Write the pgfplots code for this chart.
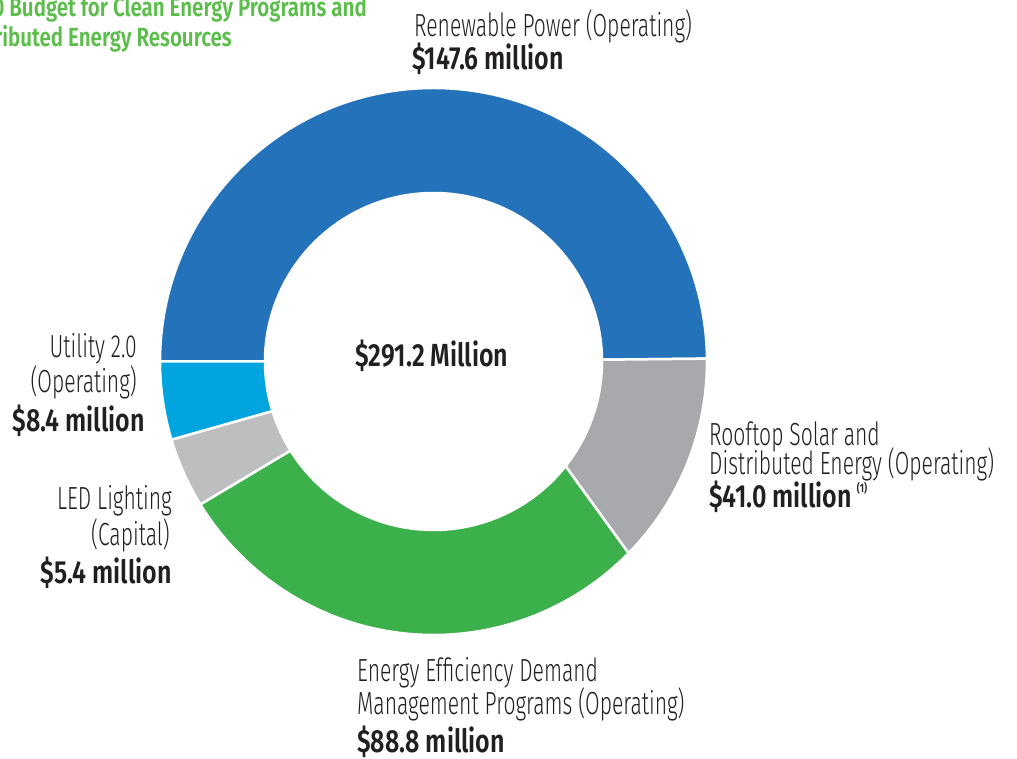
\documentclass[border=0pt]{standalone}
\usepackage{pgfplots}
\pgfplotsset{compat=1.18}
\usepackage{pgfplotstable}
\usepackage{fontspec}
\setmainfont{Fira Sans}[FakeStretch=0.66, UprightFont=* Light, BoldFont=* SemiBold, BoldFeatures={FakeStretch=0.78}]
\definecolor{cRen}{RGB}{35,114,186}
\definecolor{cRoof}{RGB}{167,169,172}
\definecolor{cEE}{RGB}{60,176,74}
\definecolor{cLED}{RGB}{188,190,192}
\definecolor{cUtil}{RGB}{0,165,223}
\definecolor{cTitle}{RGB}{91,190,75}
\definecolor{cText}{RGB}{35,31,32}

% segment values ($ million) and the angles at which the picture draws them
\pgfplotstableread{
seg value outerA outerB innerA innerB col
Renewable 147.6 180.0 0.6 180.0 0.6 cRen
Rooftop 41.0 0.6 -44.5 0.6 -38.4 cRoof
Efficiency 88.8 -44.5 -148.5 -38.4 -148.1 cEE
LED 5.4 -148.5 -163.4 -148.1 -162.9 cLED
Utility 8.4 -163.4 -180.0 -162.9 -180.0 cUtil
}\segs

\newcommand{\lab}{\fontsize{32}{34}\selectfont\color{cText}}
\newcommand{\val}{\fontsize{32}{34}\selectfont\bfseries\color{cText}}

\begin{document}
\begin{tikzpicture}
\useasboundingbox (0,0) rectangle (1017pt,758pt);
\begin{axis}[hide axis, scale only axis, x=1pt, y=1pt,
  xmin=0, xmax=1017, ymin=0, ymax=758, clip=false]
\pgfplotsinvokeforeach{0,...,4}{
  \pgfplotstablegetelem{#1}{outerA}\of\segs\let\oa\pgfplotsretval
  \pgfplotstablegetelem{#1}{outerB}\of\segs\let\ob\pgfplotsretval
  \pgfplotstablegetelem{#1}{innerA}\of\segs\let\ia\pgfplotsretval
  \pgfplotstablegetelem{#1}{innerB}\of\segs\let\ib\pgfplotsretval
  \pgfplotstablegetelem{#1}{col}\of\segs\let\cl\pgfplotsretval
  \edef\segdraw{\noexpand\fill[\cl, draw=white, line width=2.5pt]
    (axis cs:{433.5+273.5*cos(\oa)},{396.5+273.5*sin(\oa)})
    arc[start angle=\oa, end angle=\ob, radius=273.5pt]
    -- (axis cs:{433.5+168.5*cos(\ib)},{396.5+168.5*sin(\ib)})
    arc[start angle=\ib, end angle=\ia, radius=168.5pt] -- cycle;}
  \segdraw
}
% title (cut by the page edge, as in the original)
\node[anchor=base east, inner sep=0pt, text=cTitle, font=\fontsize{26.3}{30}\selectfont\bfseries] at (axis cs:367,741) {FY 2019-20 Budget for Clean Energy Programs and};
\node[anchor=base east, inner sep=0pt, text=cTitle, font=\fontsize{26.3}{30}\selectfont\bfseries] at (axis cs:232,711) {Distributed Energy Resources};
% centre
\node[anchor=base, inner sep=0pt, font=\val] at (axis cs:432,391) {\$291.2 Million};
% Renewable
\node[anchor=base west, inner sep=0pt, font=\lab] at (axis cs:414,721) {Renewable Power (Operating)};
\node[anchor=base west, inner sep=0pt, font=\val] at (axis cs:412,688) {\$147.6 million};
% Rooftop
\node[anchor=base west, inner sep=0pt, font=\lab] at (axis cs:709,312) {Rooftop Solar and};
\node[anchor=base west, inner sep=0pt, font=\lab] at (axis cs:709,283) {Distributed Energy (Operating)};
\node[anchor=base west, inner sep=0pt, font=\val] at (axis cs:709,250) {\$41.0 million\,\raisebox{0.9ex}{\fontsize{12}{12}\selectfont (1)}};
% Efficiency
\node[anchor=base west, inner sep=0pt, font=\lab] at (axis cs:357,77) {Energy Efficiency Demand};
\node[anchor=base west, inner sep=0pt, font=\lab] at (axis cs:357,44) {Management Programs (Operating)};
\node[anchor=base west, inner sep=0pt, font=\val] at (axis cs:357,6) {\$88.8 million};
% Utility
\node[anchor=base east, inner sep=0pt, font=\lab] at (axis cs:137,400) {Utility 2.0};
\node[anchor=base east, inner sep=0pt, font=\lab] at (axis cs:137,365) {(Operating)};
\node[anchor=base east, inner sep=0pt, font=\val] at (axis cs:145,326) {\$8.4 million};
% LED
\node[anchor=base east, inner sep=0pt, font=\lab] at (axis cs:172,248) {LED Lighting};
\node[anchor=base east, inner sep=0pt, font=\lab] at (axis cs:170,212) {(Capital)};
\node[anchor=base east, inner sep=0pt, font=\val] at (axis cs:172,175) {\$5.4 million};
\end{axis}
\end{tikzpicture}
\end{document}
